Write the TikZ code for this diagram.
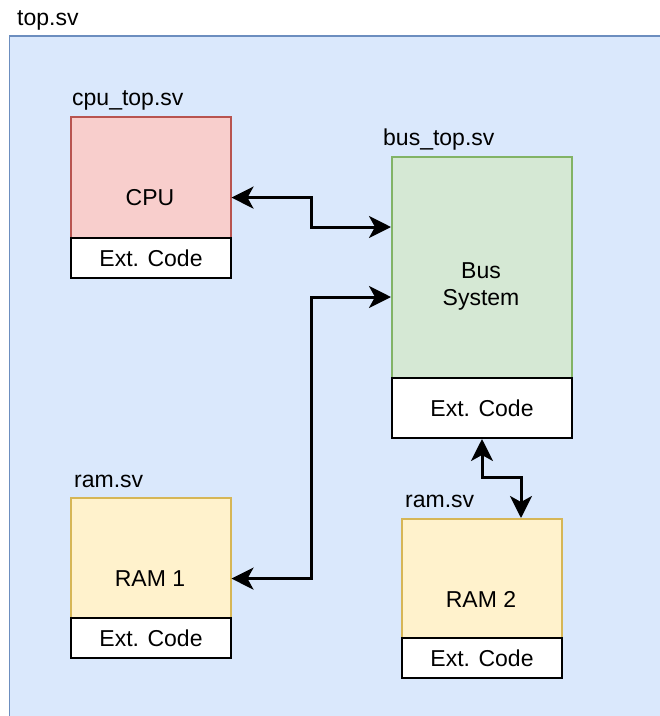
\documentclass[tikz,border=0pt]{standalone}
\usepackage{fontspec}
\setmainfont{Liberation Sans}
\usetikzlibrary{arrows.meta,calc}
\definecolor{contfill}{HTML}{DAE8FC}
\definecolor{contline}{HTML}{6C8EBF}
\definecolor{redfill}{HTML}{F8CECC}
\definecolor{redline}{HTML}{B85450}
\definecolor{greenfill}{HTML}{D5E8D4}
\definecolor{greenline}{HTML}{82B366}
\definecolor{yelfill}{HTML}{FFF2CC}
\definecolor{yelline}{HTML}{D6B656}
\tikzset{
  txt/.style={font=\fontsize{23}{27}\selectfont, inner sep=0pt},
  lbl/.style={txt, anchor=base west},
  ctr/.style={txt, anchor=base},
  blk/.style={draw, line width=1.5pt, inner sep=0pt, minimum width=#1, anchor=north west},
  redblk/.style={blk=160pt, fill=redfill, draw=redline},
  greenblk/.style={blk=180pt, fill=greenfill, draw=greenline},
  yelblk/.style={blk=160pt, fill=yelfill, draw=yelline},
  extblk/.style={draw=black, fill=white, line width=2pt, inner sep=0pt, minimum width=#1, anchor=north west, txt},
  conn/.style={line width=3pt, {Stealth[length=22pt,width=22pt,inset=6pt]}-{Stealth[length=22pt,width=22pt,inset=6pt]}}
}
\begin{document}
\begin{tikzpicture}[x=1pt,y=-1pt]
\useasboundingbox (0,0) rectangle (660,716);
% container
\fill[contfill] (9.5,36) rectangle (660,716);
\draw[contline, line width=1.5pt] (660,36) -- (9.5,36) -- (9.5,716);
\node[lbl] (toplbl) at (17,25) {top.sv};

% CPU
\node[lbl] (cpufile) at (72,105) {cpu\_top.sv};
\node[redblk, minimum height=121pt] (cpu) at (70,116) {};
\node[extblk=160pt, minimum height=40pt] (cpuext) at (70,237) {Ext. Code};
\node[ctr] (cputxt) at (150,205.5) {CPU};

% Bus
\node[lbl] (busfile) at (383,145) {bus\_top.sv};
\node[greenblk, minimum height=221pt] (bus) at (391,156) {};
\node[extblk=180pt, minimum height=60pt] (busext) at (391,377) {Ext. Code};
\node[ctr] (bustxt1) at (481,278) {Bus};
\node[ctr] (bustxt2) at (481,305) {System};

% RAM 1
\node[lbl] (ram1file) at (74,487) {ram.sv};
\node[yelblk, minimum height=120pt] (ram1) at (70,497) {};
\node[extblk=160pt, minimum height=40pt] (ram1ext) at (70,617) {Ext. Code};
\node[ctr] (ram1txt) at (150,586.5) {RAM 1};

% RAM 2
\node[lbl] (ram2file) at (405,507) {ram.sv};
\node[yelblk, minimum height=119pt] (ram2) at (401,518) {};
\node[extblk=160pt, minimum height=40pt] (ram2ext) at (401,637) {Ext. Code};
\node[ctr] (ram2txt) at (481,607.5) {RAM 2};

% connectors
\coordinate (p1) at (311,227);
\coordinate (p2) at (311,297);
\coordinate (p3) at (521,477);
\draw[conn] (cpu.east |- cputxt.center) -| (p1) -- (bus.west |- p1);
\draw[conn] (ram1.east |- ram1txt.center) -| (p2) -- (bus.west |- p2);
\draw[conn] (busext.south) |- (p3) -- (ram2.north -| p3);
\end{tikzpicture}
\end{document}
